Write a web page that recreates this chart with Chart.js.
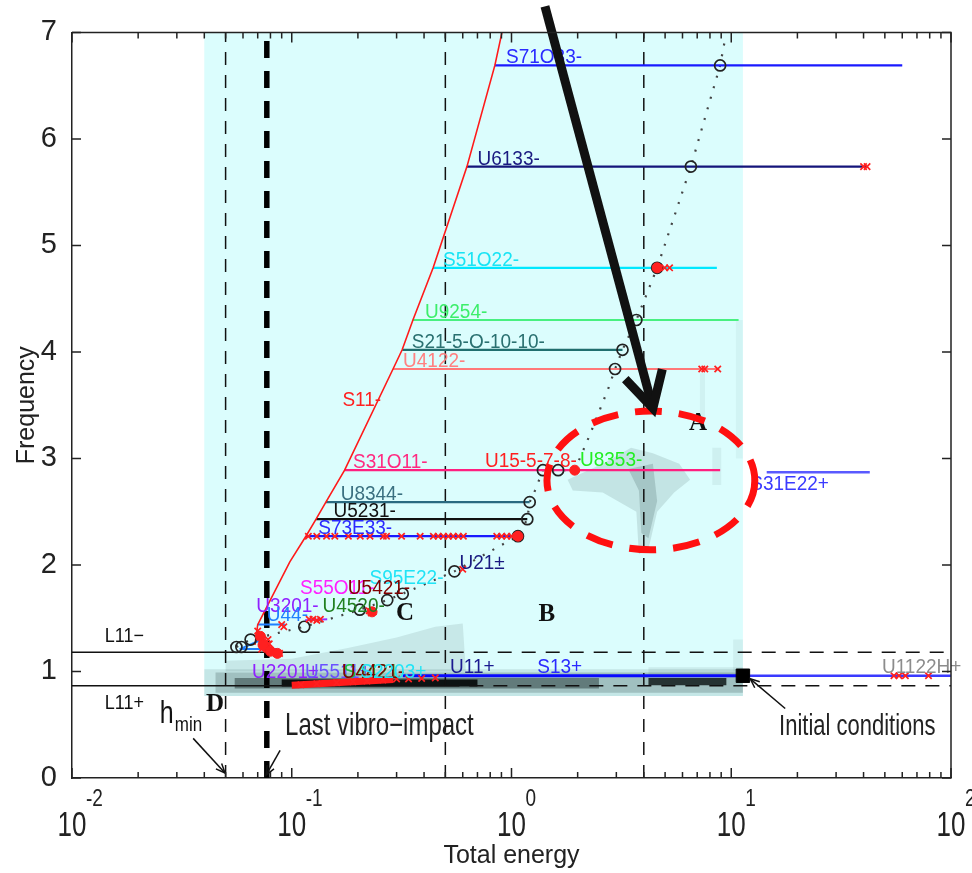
<!DOCTYPE html>
<html>
<head>
<meta charset="utf-8">
<title>Frequency vs total energy</title>
<script src="https://cdn.jsdelivr.net/npm/chart.js"></script>
<style>
  body { margin: 0; background: #fff; }
  #fel { display: block; }
</style>
</head>
<body>
<canvas id="fel" width="972" height="873"></canvas>
<script>
// ---- values ----
const xTickValues = [0.01, 0.1, 1, 10, 100];
const xTickExponents = ['-2', '-1', '0', '1', '2'];

// S11- backbone (red curve)
const s11Energy = [0.068, 0.070, 0.098, 0.116, 0.129, 0.143, 0.174, 0.289, 0.318, 0.356, 0.44, 0.627, 0.84, 0.905];
const s11Freq   = [1.25, 1.44, 2.03, 2.27, 2.43, 2.59, 2.89, 3.84, 4.02, 4.30, 4.79, 5.74, 6.69, 7.0];

// horizontal branches leaving S11-
const branchNames  = ['S71O33-', 'U6133-', 'S51O22-', 'U9254-', 'S21-5-O-10-10-', 'U4122-', 'S31O11-', 'U8344-', 'U5231-', 'S73E33-'];
const branchFreq   = [6.69, 5.74, 4.79, 4.30, 4.02, 3.84, 2.89, 2.59, 2.43, 2.27];
const branchStart  = [0.84, 0.627, 0.44, 0.356, 0.318, 0.289, 0.174, 0.143, 0.129, 0.116];
const branchEnd    = [60, 41, 8.6, 10.8, 3.2, 8.7, 8.9, 1.21, 1.18, 1.07];
const branchLabelAt = [0.944, 0.70, 0.488, 0.404, 0.352, 0.321, 0.19, 0.167, 0.155, 0.132];

// other branches
const s31e22Energy = [14.5, 42.7];
const s31e22Freq   = [2.87, 2.87];
const u11Energy    = [0.32, 11.3];
const u11Freq      = [0.96, 0.96];
const u1122Energy  = [11.3, 100];
const u1122Freq    = [0.96, 0.96];
const segEnergy = [[0.058, 0.086], [0.058, 0.075], [0.07, 0.093], [0.115, 0.145]];
const segFreq   = [[1.21, 1.21], [1.21, 1.31], [1.44, 1.44], [1.48, 1.49]];

// reference lines
const l11Minus = 1.18;
const l11Plus = 0.866;
const vLineEnergy = [0.05, 0.5, 4.0];
const lastImpactEnergy = 0.077;

// backbone circles and dotted path
const circleEnergy = [0.056, 0.059, 0.065, 0.114, 0.204, 0.272, 0.32, 0.55, 1.07, 1.18, 1.21, 1.39, 1.63, 2.96, 3.2, 3.7, 4.6, 6.55, 8.9];
const circleFreq   = [1.23, 1.23, 1.30, 1.42, 1.58, 1.67, 1.73, 1.94, 2.27, 2.43, 2.59, 2.89, 2.89, 3.84, 4.02, 4.30, 4.79, 5.74, 6.69];
const pathEnergy = [0.056, 0.065, 0.114, 0.204, 0.272, 0.32, 0.55, 0.87, 1.07, 1.18, 1.21, 1.28, 1.39, 1.63, 1.94, 2.27, 2.75, 2.96, 3.2, 3.7, 4.6, 6.55, 8.9, 9.4];
const pathFreq   = [1.23, 1.30, 1.42, 1.58, 1.67, 1.73, 1.94, 2.17, 2.27, 2.43, 2.59, 2.70, 2.89, 2.89, 2.89, 3.22, 3.65, 3.84, 4.02, 4.30, 4.79, 5.74, 6.69, 6.95];

// red markers
const crossEnergy = [
  0.119, 0.130, 0.144, 0.157, 0.181, 0.205, 0.227, 0.261, 0.270, 0.316, 0.384, 0.441, 0.464, 0.490, 0.516, 0.543, 0.573, 0.604, 0.857, 0.902, 0.951, 1.0, 1.056,
  40, 41.5, 4.64, 4.98, 5.24, 7.34, 7.58, 8.68, 0.6,
  55, 58, 62, 79,
  0.11, 0.13, 0.16, 0.19, 0.22, 0.26, 0.30, 0.34, 0.39, 0.45,
  0.07, 0.072, 0.074, 0.075, 0.077, 0.078, 0.08, 0.082, 0.085, 0.088, 0.09, 0.092, 0.073, 0.079,
  0.12, 0.125, 0.13, 0.135, 0.225, 0.23, 0.235];
const crossFreq = [
  2.27, 2.27, 2.27, 2.27, 2.27, 2.27, 2.27, 2.27, 2.27, 2.27, 2.27, 2.27, 2.27, 2.27, 2.27, 2.27, 2.27, 2.27, 2.27, 2.27, 2.27, 2.27, 2.27,
  5.74, 5.74, 4.79, 4.79, 4.79, 3.84, 3.84, 3.84, 1.96,
  0.96, 0.96, 0.96, 0.96,
  0.875, 0.885, 0.895, 0.905, 0.91, 0.92, 0.93, 0.93, 0.935, 0.94,
  1.38, 1.33, 1.28, 1.24, 1.22, 1.30, 1.20, 1.18, 1.17, 1.17, 1.44, 1.42, 1.21, 1.26,
  1.49, 1.49, 1.48, 1.49, 1.57, 1.55, 1.56];
const dotEnergy = [1.94, 1.07, 4.6, 0.074, 0.08, 0.086, 0.072, 0.232];
const dotFreq   = [2.89, 2.27, 4.79, 1.25, 1.19, 1.17, 1.33, 1.56];
const redBandEnergy = [0.1, 0.29];
const redBandFreq   = [0.87, 0.925];
const initEnergy = [11.3];
const initFreq   = [0.96];

// cyan region and grey density patches
const shadedEnergy = [0.04, 11.3];
const shadedFreq   = [0.77, 7];
const densityEnergy = [
  [0.04, 11.3, 11.3, 0.04],
  [0.045, 11.3, 11.3, 0.045],
  [0.055, 2.5, 2.5, 0.055],
  [0.09, 0.7, 0.7, 0.09],
  [4.2, 9.5, 9.5, 4.2],
  [4.2, 11.3, 11.3, 4.2],
  [10.2, 11.3, 11.3, 10.2],
  [0.05, 0.05, 0.1, 0.18, 0.3, 0.45, 0.6, 0.62],
  [1.8, 2.6, 3.5, 4.4, 5.8, 6.5, 5.5, 4.6, 4.2, 3.8, 3.7, 2.6, 1.9],
  [3.4, 4.4, 4.6, 4.2, 3.9, 3.8],
  [8.2, 9.0, 9.0, 8.2],
  [10.5, 11.3, 11.3, 10.5],
  [7.2, 7.6, 7.6, 7.2]];
const densityFreq = [
  [0.77, 0.77, 1.02, 1.02],
  [0.80, 0.80, 0.99, 0.99],
  [0.84, 0.84, 0.94, 0.94],
  [0.86, 0.86, 0.925, 0.925],
  [0.87, 0.87, 0.94, 0.94],
  [0.95, 0.95, 1.04, 1.04],
  [1.0, 1.0, 1.3, 1.3],
  [1.0, 1.1, 1.12, 1.22, 1.32, 1.42, 1.45, 1.0],
  [2.8, 2.95, 3.1, 3.05, 2.95, 2.8, 2.68, 2.5, 2.15, 2.1, 2.5, 2.68, 2.7],
  [2.9, 2.95, 2.6, 2.25, 2.3, 2.7],
  [2.75, 2.75, 3.1, 3.1],
  [3.0, 3.0, 4.3, 4.3],
  [3.3, 3.3, 3.8, 3.8]];
const densityLevel = [0.12, 0.22, 0.45, 0.9, 0.8, 0.09, 0.07, 0.11, 0.13, 0.18, 0.07, 0.05, 0.06];

// free labels
const noteText   = ['S11-', 'U15-5-7-8-', 'U8353-', 'U21±', 'S95E22-', 'S55O11-', 'U5421-', 'U3201-', 'U4520-', 'U44-', 'U2201±', 'U5511+', 'S4421-', 'U4421-', 'S2203+', 'U11+', 'S13+', 'U1122H+', 'S31E22+'];
const noteEnergy = [0.17, 0.757, 2.05, 0.58, 0.226, 0.109, 0.18, 0.069, 0.138, 0.077, 0.066, 0.115, 0.172, 0.169, 0.205, 0.525, 1.31, 48.5, 12.2];
const noteFreq   = [3.49, 2.92, 2.93, 1.965, 1.82, 1.73, 1.73, 1.56, 1.56, 1.47, 0.94, 0.94, 0.94, 0.94, 0.94, 0.99, 0.99, 0.99, 2.70];

// region letters and call-outs
const letterText   = ['A', 'B', 'C', 'D'];
const letterEnergy = [7.06, 1.45, 0.328, 0.0448];
const letterFreq   = [3.33, 1.53, 1.546, 0.689];
const ellipseEnergy = [1.45, 12.8];
const ellipseFreq   = [2.142, 3.445];
const bigArrowEnergy = [1.42, 4.40];
const bigArrowFreq   = [7.244, 3.473];

// ---- styles ----
const SANS = '"Liberation Sans", Arial, sans-serif';
const SERIF = '"Liberation Serif", "DejaVu Serif", serif';
const branchColors = ['#1a1aff', '#14147a', '#00e8ff', '#48f080', '#206e6e', '#ff7878', '#ff1f80', '#2a6a80', '#111111', '#1a1aff'];
const branchTextColors = ['#2a2aff', '#1a1a80', '#18e4f4', '#3cee6a', '#2a7070', '#ff8080', '#ff2a80', '#3a7080', '#111111', '#2a2aff'];
const noteColors = ['#ff2020', '#ff2020', '#22ee22', '#1a1a80', '#20e4f6', '#ff20ff', '#800000', '#9020ff', '#208020', '#2080ff', '#9020ff', '#6a50ff', '#20c040', '#800000', '#20e4f6', '#1a1a90', '#2a2aff', '#8c8c8c', '#3a3aff'];
const segColors = ['#1f7fff', '#1f7fff', '#1f7fff', '#9a30ff'];

function pts(xs, ys) { return xs.map((x, i) => ({x: x, y: ys[i]})); }

const layers = [];
function addLine(data, color, width, dash) {
  layers.push({data: data, showLine: true, borderColor: color, borderWidth: width,
    borderDash: dash || [], pointRadius: 0, fill: false, tension: 0});
}
function addPoints(data, style, radius, stroke, fillC, width) {
  layers.push({data: data, showLine: false, pointStyle: style, pointRadius: radius,
    borderColor: stroke, backgroundColor: fillC, borderWidth: width});
}

// draw order: first pushed = bottom
vLineEnergy.forEach(e => addLine(pts([e, e], [0, 7]), '#111', 1.5, [13, 10]));
addLine(pts([lastImpactEnergy, lastImpactEnergy], [0, 7]), '#000', 5.5, [17, 13]);
addLine(pts([0.01, 0.09], [l11Minus, l11Minus]), '#111', 1.5);
addLine(pts([0.09, 100], [l11Minus, l11Minus]), '#111', 1.5, [14, 10]);
addLine(pts([0.01, 0.5], [l11Plus, l11Plus]), '#111', 1.5);
addLine(pts([0.5, 100], [l11Plus, l11Plus]), '#111', 1.5, [14, 10]);
addLine(pts(pathEnergy, pathFreq), '#444', 2.2, [2, 9]);
branchNames.forEach((n, i) => addLine(pts([branchStart[i], branchEnd[i]], [branchFreq[i], branchFreq[i]]), branchColors[i], 2.2));
addLine(pts(s31e22Energy, s31e22Freq), '#5a5aff', 2.5);
addLine(pts(u11Energy, u11Freq), '#0808ff', 3);
addLine(pts(u1122Energy, u1122Freq), '#3a3aff', 2.5);
segEnergy.forEach((s, i) => addLine(pts(s, segFreq[i]), segColors[i], 2));
addLine(pts(s11Energy, s11Freq), '#ff1a1a', 1.6);
addLine(pts(redBandEnergy, redBandFreq), '#ff1a1a', 7);
addPoints(pts(circleEnergy, circleFreq), 'circle', 5.5, '#222', 'rgba(0,0,0,0)', 1.7);
addPoints(pts(crossEnergy, crossFreq), 'crossRot', 4.5, '#ff2020', '#ff2020', 1.7);
addPoints(pts(dotEnergy, dotFreq), 'circle', 5, '#ff2020', '#ff2020', 1);
addPoints(pts(initEnergy, initFreq), 'rect', 9.5, '#000', '#000', 1);

function stretchText(ctx, s, px, py, size, o) {
  o = o || {};
  ctx.save();
  ctx.translate(px, py);
  ctx.scale(1, o.sy || 1);
  ctx.font = (o.weight || '') + ' ' + size + 'px ' + (o.family || SANS);
  ctx.fillStyle = o.color || '#111';
  ctx.textAlign = o.align || 'left';
  ctx.textBaseline = o.base || 'alphabetic';
  ctx.fillText(s, 0, 0);
  ctx.restore();
}

function arrow(ctx, x0, y0, x1, y1, width, head, ang) {
  ctx.save();
  ctx.strokeStyle = '#111';
  ctx.lineWidth = width;
  ctx.beginPath(); ctx.moveTo(x0, y0); ctx.lineTo(x1, y1); ctx.stroke();
  const a = Math.atan2(y1 - y0, x1 - x0);
  ctx.beginPath();
  ctx.moveTo(x1 - head * Math.cos(a - ang), y1 - head * Math.sin(a - ang));
  ctx.lineTo(x1, y1);
  ctx.lineTo(x1 - head * Math.cos(a + ang), y1 - head * Math.sin(a + ang));
  ctx.stroke();
  ctx.restore();
}

const sketchPlugin = {
  id: 'sketch',
  beforeDatasetsDraw(chart) {
    const {ctx, chartArea: a, scales: {x, y}} = chart;
    ctx.save();
    ctx.beginPath(); ctx.rect(a.left, a.top, a.right - a.left, a.bottom - a.top); ctx.clip();
    const cx0 = x.getPixelForValue(shadedEnergy[0]), cx1 = x.getPixelForValue(shadedEnergy[1]);
    const cy0 = y.getPixelForValue(shadedFreq[1]), cy1 = y.getPixelForValue(shadedFreq[0]);
    ctx.fillStyle = '#dbfdfd';
    ctx.fillRect(cx0, cy0, cx1 - cx0, cy1 - cy0);
    densityEnergy.forEach((poly, i) => {
      const lv = densityLevel[i];
      ctx.fillStyle = 'rgba(' + Math.round(40 - 40 * lv) + ',' + Math.round(75 - 75 * lv) + ',' + Math.round(75 - 75 * lv) + ',' + lv + ')';
      ctx.beginPath();
      poly.forEach((e, j) => {
        const px = x.getPixelForValue(e), py = y.getPixelForValue(densityFreq[i][j]);
        if (j === 0) ctx.moveTo(px, py); else ctx.lineTo(px, py);
      });
      ctx.closePath();
      ctx.fill();
    });
    ctx.restore();
  },
  afterDatasetsDraw(chart) {
    const {ctx, scales: {x, y}} = chart;
    // branch labels
    branchNames.forEach((n, i) => {
      stretchText(ctx, n, x.getPixelForValue(branchLabelAt[i]), y.getPixelForValue(branchFreq[i]) - 2, 19, {color: branchTextColors[i], sy: 1.1});
    });
    noteText.forEach((n, i) => {
      stretchText(ctx, n, x.getPixelForValue(noteEnergy[i]), y.getPixelForValue(noteFreq[i]), 19, {color: noteColors[i], sy: 1.1});
    });
    // region letters
    letterText.forEach((t, i) => {
      stretchText(ctx, t, x.getPixelForValue(letterEnergy[i]), y.getPixelForValue(letterFreq[i]), 25,
        {family: SERIF, weight: 'bold', align: 'center', base: 'middle', color: '#111'});
    });
    // red dashed ellipse
    const ex0 = x.getPixelForValue(ellipseEnergy[0]), ex1 = x.getPixelForValue(ellipseEnergy[1]);
    const ey0 = y.getPixelForValue(ellipseFreq[1]), ey1 = y.getPixelForValue(ellipseFreq[0]);
    ctx.save();
    ctx.strokeStyle = '#ff1010';
    ctx.lineWidth = 7;
    ctx.setLineDash([27, 17]);
    ctx.beginPath();
    ctx.ellipse((ex0 + ex1) / 2, (ey0 + ey1) / 2, (ex1 - ex0) / 2, (ey1 - ey0) / 2, 0, 0, Math.PI * 2);
    ctx.stroke();
    ctx.restore();
    // big black arrow
    arrow(ctx, x.getPixelForValue(bigArrowEnergy[0]), y.getPixelForValue(bigArrowFreq[0]),
      x.getPixelForValue(bigArrowEnergy[1]), y.getPixelForValue(bigArrowFreq[1]), 9, 40, 0.5);
    // L11 labels
    stretchText(ctx, 'L11\u2212', x.getPixelForValue(0.0141), y.getPixelForValue(1.276), 18, {sy: 1.1});
    stretchText(ctx, 'L11+', x.getPixelForValue(0.0141), y.getPixelForValue(0.652), 18, {sy: 1.1});
    // h_min call-out
    stretchText(ctx, 'h', x.getPixelForValue(0.0251), y.getPixelForValue(0.521), 25, {sy: 1.25});
    stretchText(ctx, 'min', x.getPixelForValue(0.0251) + 15, y.getPixelForValue(0.521) + 8, 17, {sy: 1.2});
    arrow(ctx, x.getPixelForValue(0.0356), y.getPixelForValue(0.372), x.getPixelForValue(0.0497), y.getPixelForValue(0.047), 1.5, 10, 0.4);
    // last vibro-impact call-out
    stretchText(ctx, 'Last vibro\u2212impact', x.getPixelForValue(0.0932), y.getPixelForValue(0.40), 24, {sy: 1.3, color: '#222'});
    arrow(ctx, x.getPixelForValue(0.0885), y.getPixelForValue(0.26), x.getPixelForValue(0.0764), y.getPixelForValue(0.028), 1.5, 10, 0.4);
    // initial conditions call-out
    stretchText(ctx, 'Initial conditions', x.getPixelForValue(16.5), y.getPixelForValue(0.40), 22, {sy: 1.3, color: '#222'});
    arrow(ctx, x.getPixelForValue(17.6), y.getPixelForValue(0.652), x.getPixelForValue(12.2), y.getPixelForValue(0.931), 1.5, 10, 0.4);
  },
  afterDraw(chart) {
    const {ctx, chartArea: a, scales: {x, y}} = chart;
    ctx.save();
    ctx.strokeStyle = '#222';
    ctx.lineWidth = 1.5;
    ctx.beginPath();
    ctx.moveTo(a.left, a.top); ctx.lineTo(a.right, a.top); ctx.lineTo(a.right, a.bottom);
    ctx.stroke();
    // inward ticks
    ctx.beginPath();
    for (let d = 0; d < xTickValues.length; d++) {
      const base = xTickValues[d];
      const px = x.getPixelForValue(base);
      ctx.moveTo(px, a.bottom); ctx.lineTo(px, a.bottom - 10);
      ctx.moveTo(px, a.top); ctx.lineTo(px, a.top + 10);
      if (d < xTickValues.length - 1) {
        for (let m = 2; m <= 9; m++) {
          const mx = x.getPixelForValue(base * m);
          ctx.moveTo(mx, a.bottom); ctx.lineTo(mx, a.bottom - 6);
          ctx.moveTo(mx, a.top); ctx.lineTo(mx, a.top + 6);
        }
      }
    }
    for (let v = 0; v <= 7; v++) {
      const py = y.getPixelForValue(v);
      ctx.moveTo(a.left, py); ctx.lineTo(a.left + 9, py);
      ctx.moveTo(a.right, py); ctx.lineTo(a.right - 9, py);
    }
    ctx.stroke();
    ctx.restore();
    // x tick labels 10^n
    xTickValues.forEach((v, i) => {
      const px = x.getPixelForValue(v);
      stretchText(ctx, '10', px, a.bottom + 58, 26, {align: 'center', sy: 1.35, color: '#222'});
      stretchText(ctx, xTickExponents[i], px + 14, a.bottom + 28, 19, {sy: 1.25, color: '#222'});
    });
  }
};

new Chart(document.getElementById('fel'), {
  type: 'scatter',
  data: {datasets: layers.slice().reverse()},
  options: {
    responsive: false,
    animation: false,
    layout: {padding: {top: 26, right: 21, left: 0, bottom: 0}},
    plugins: {legend: {display: false}, tooltip: {enabled: false}},
    scales: {
      x: {
        type: 'logarithmic', min: 0.01, max: 100,
        grid: {display: false, drawTicks: false},
        border: {display: true, color: '#222', width: 1.5},
        ticks: {display: false},
        title: {display: true, text: 'Total energy', color: '#222', font: {family: SANS, size: 25}, padding: {top: 0, bottom: 2}},
        afterFit: s => { s.height = 95; }
      },
      y: {
        min: 0, max: 7,
        grid: {display: false, drawTicks: false},
        border: {display: true, color: '#222', width: 1.5},
        ticks: {stepSize: 1, color: '#222', font: {family: SANS, size: 29}, padding: 15},
        title: {display: true, text: 'Frequency', color: '#222', font: {family: SANS, size: 25}, padding: {top: 12, bottom: 0}},
        afterFit: s => { s.width = 72; }
      }
    }
  },
  plugins: [sketchPlugin]
});
</script>
</body>
</html>
